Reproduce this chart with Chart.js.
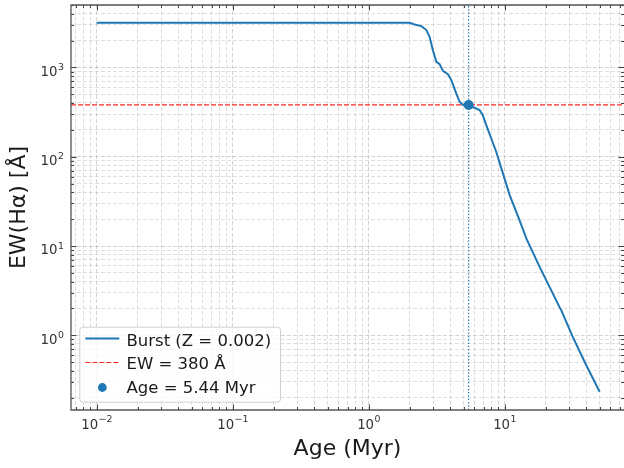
<!DOCTYPE html>
<html>
<head>
<meta charset="utf-8">
<script src="https://cdn.jsdelivr.net/npm/chart.js@4.4.1/dist/chart.umd.min.js"></script>
<style>
  html, body { margin: 0; padding: 0; background: #fff; }
  #wrap { width: 624px; height: 468px; }
</style>
</head>
<body>
<div id="wrap"><canvas id="c" width="624" height="468"></canvas></div>
<script>
// Burst model, Z = 0.002: H-alpha equivalent width versus age
const ageMyr = [0.01, 0.1, 1.0, 1.9, 2.0, 2.18, 2.44, 2.66, 2.81, 2.97, 3.15, 3.33, 3.52, 3.83,
  4.06, 4.41, 4.67, 4.94, 5.46, 6.01, 6.55, 6.92, 7.33, 7.98, 8.69, 9.72, 10.9, 12.6,
  14.5, 18.1, 21.4, 25.3, 26.1, 31.7, 39.8, 50.0];
const ewHalpha = [3160, 3160, 3160, 3160, 3155, 3030, 2900, 2620, 2200, 1560, 1155, 1090, 916, 841,
  721, 512, 412, 379, 372, 353, 333, 292, 226, 160, 113, 65, 37.2, 21.2,
  12.0, 5.85, 3.49, 2.08, 1.91, 0.96, 0.465, 0.233];

// Observed EW and the age where the model reaches it
const ewObserved = 380;
const ageMatch = 5.44;

// Labelled decades on each axis
const xTickExponents = [-2, -1, 0, 1];
const yTickExponents = [0, 1, 2, 3];

// Axis limits (log-space padding around the data)
const xLimits = [Math.pow(10, -2.188), Math.pow(10, 1.878)];
const yLimits = [Math.pow(10, -0.8365), Math.pow(10, 3.699)];

const BLUE = '#1f77b4';
const FONT = '"DejaVu Sans", "Liberation Sans", sans-serif';

function logTicks(min, max) {
  const out = [];
  for (let e = Math.floor(Math.log10(min)) - 1; e <= Math.ceil(Math.log10(max)); e++) {
    for (let m = 1; m <= 9; m++) {
      const v = m * Math.pow(10, e);
      if (v >= min * 0.9999 && v <= max * 1.0001) out.push({ value: v, major: m === 1 });
    }
  }
  return out;
}

function superLabel(exp) {
  return { base: '10', sup: exp < 0 ? '\u2212' + Math.abs(exp) : String(exp) };
}

// Inward ticks on all sides, spines, decade labels, axis titles and legend
const decor = {
  id: 'decor',
  afterDatasetsDraw(chart) {
    const { ctx, chartArea: a, scales: { x, y } } = chart;
    ctx.save();
    ctx.strokeStyle = '#444';
    ctx.lineWidth = 1;
    x.ticks.forEach(t => {
      const px = Math.round(x.getPixelForValue(t.value)) + 0.5;
      const len = t.major ? 5.5 : 3;
      ctx.beginPath();
      ctx.moveTo(px, a.bottom); ctx.lineTo(px, a.bottom - len);
      ctx.moveTo(px, a.top); ctx.lineTo(px, a.top + len);
      ctx.stroke();
    });
    y.ticks.forEach(t => {
      const py = Math.round(y.getPixelForValue(t.value)) + 0.5;
      const len = t.major ? 5.5 : 3;
      ctx.beginPath();
      ctx.moveTo(a.left, py); ctx.lineTo(a.left + len, py);
      ctx.moveTo(a.right, py); ctx.lineTo(a.right - len, py);
      ctx.stroke();
    });
    // left, top and bottom spines (the right one sits on the canvas edge)
    ctx.strokeStyle = '#555';
    ctx.lineWidth = 1.3;
    ctx.beginPath();
    ctx.moveTo(a.right + 1, a.top); ctx.lineTo(a.left, a.top);
    ctx.lineTo(a.left, a.bottom); ctx.lineTo(a.right + 1, a.bottom);
    ctx.stroke();
    ctx.restore();
  },
  afterDraw(chart) {
    const { ctx, chartArea: a, scales: { x, y } } = chart;
    ctx.save();
    ctx.fillStyle = '#333';
    ctx.textBaseline = 'alphabetic';
    const baseFont = '13.3px ' + FONT;
    const supFont = '9.4px ' + FONT;

    xTickExponents.forEach(e => {
      const px = x.getPixelForValue(Math.pow(10, e));
      const lab = superLabel(e);
      ctx.font = baseFont; const wb = ctx.measureText(lab.base).width;
      ctx.font = supFont; const ws = ctx.measureText(lab.sup).width;
      const x0 = px - (wb + ws) / 2;
      ctx.textAlign = 'left';
      ctx.font = baseFont; ctx.fillText(lab.base, x0, a.bottom + 19);
      ctx.font = supFont; ctx.fillText(lab.sup, x0 + wb + 0.5, a.bottom + 12);
    });

    yTickExponents.forEach(e => {
      const py = y.getPixelForValue(Math.pow(10, e));
      const lab = superLabel(e);
      ctx.font = supFont; const ws = ctx.measureText(lab.sup).width;
      ctx.textAlign = 'right';
      const right = a.left - 7;
      ctx.fillText(lab.sup, right, py + 2.5);
      ctx.font = baseFont; ctx.fillText(lab.base, right - ws - 0.5, py + 8.3);
    });

    // Axis titles
    ctx.fillStyle = '#1a1a1a';
    ctx.font = '22px ' + FONT;
    ctx.textAlign = 'center';
    ctx.textBaseline = 'middle';
    ctx.fillText('Age (Myr)', (a.left + a.right) / 2, 449);
    ctx.save();
    ctx.translate(19, (a.top + a.bottom) / 2);
    ctx.rotate(-Math.PI / 2);
    ctx.fillText('EW(H\u03b1) [\u00c5]', 0, 0);
    ctx.restore();

    // Legend
    const bx = a.left + 8.3, bw = 200.7, bh = 75;
    const by = a.bottom - 8.3 - bh;
    ctx.beginPath();
    ctx.roundRect(bx + 0.5, by + 0.5, bw, bh, 3);
    ctx.fillStyle = 'rgba(255,255,255,0.8)';
    ctx.fill();
    ctx.strokeStyle = '#d0d0d0';
    ctx.lineWidth = 1;
    ctx.stroke();

    const rows = [by + 19.3, by + 42.6, by + 66];
    const hx0 = bx + 6, hx1 = bx + 40, tx = bx + 47.2;
    ctx.lineWidth = 2; ctx.strokeStyle = BLUE;
    ctx.beginPath(); ctx.moveTo(hx0, rows[0] - 7.5); ctx.lineTo(hx1, rows[0] - 7.5); ctx.stroke();
    ctx.lineWidth = 1.2; ctx.strokeStyle = 'rgba(255,0,0,0.85)';
    ctx.setLineDash([5, 2]);
    ctx.beginPath(); ctx.moveTo(hx0, rows[1] - 6.8); ctx.lineTo(hx1, rows[1] - 6.8); ctx.stroke();
    ctx.setLineDash([]);
    ctx.fillStyle = BLUE;
    ctx.beginPath(); ctx.arc((hx0 + hx1) / 2, rows[2] - 5.2, 4.4, 0, Math.PI * 2); ctx.fill();

    ctx.fillStyle = '#1a1a1a';
    ctx.font = '16.5px ' + FONT;
    ctx.textAlign = 'left';
    ctx.textBaseline = 'alphabetic';
    ctx.fillText('Burst (Z = 0.002)', tx, rows[0]);
    ctx.fillText('EW = ' + ewObserved + ' \u00c5', tx, rows[1]);
    ctx.fillText('Age = ' + ageMatch.toFixed(2) + ' Myr', tx, rows[2]);
    ctx.restore();
  }
};

const gridColor = c => (c.tick && c.tick.major) ? 'rgba(150,150,150,0.42)' : 'rgba(170,170,170,0.38)';

function axis(pos, limits, fitKey, fitVal) {
  return {
    type: 'logarithmic',
    position: pos,
    min: limits[0],
    max: limits[1],
    bounds: 'data',
    afterBuildTicks: s => { s.ticks = logTicks(s.min, s.max); },
    afterFit: s => { s[fitKey] = fitVal; },
    ticks: { display: false },
    grid: { color: gridColor, lineWidth: 1, drawTicks: false, tickLength: 0 },
    border: { display: false, dash: [4, 2] }
  };
}

new Chart(document.getElementById('c'), {
  type: 'scatter',
  data: {
    datasets: [
      {
        label: 'Age = 5.44 Myr',
        data: [{ x: ageMatch, y: ewObserved }],
        backgroundColor: BLUE,
        borderWidth: 0,
        pointRadius: 5,
        order: 0
      },
      {
        label: 'Burst (Z = 0.002)',
        data: ageMyr.map((a, i) => ({ x: a, y: ewHalpha[i] })),
        showLine: true,
        borderColor: BLUE,
        borderWidth: 2,
        pointRadius: 0,
        tension: 0,
        order: 1
      },
      {
        label: 'EW = 380 \u00c5',
        data: [{ x: xLimits[0], y: ewObserved }, { x: xLimits[1], y: ewObserved }],
        showLine: true,
        borderColor: 'rgba(255,0,0,0.85)',
        borderWidth: 1.3,
        borderDash: [5, 2],
        pointRadius: 0,
        order: 2
      },
      {
        label: 'age marker',
        data: [{ x: ageMatch, y: yLimits[0] }, { x: ageMatch, y: yLimits[1] }],
        showLine: true,
        borderColor: BLUE,
        borderWidth: 1.1,
        borderDash: [1.5, 1.8],
        pointRadius: 0,
        order: 3
      }
    ]
  },
  options: {
    responsive: false,
    animation: false,
    devicePixelRatio: 1,
    layout: { autoPadding: false, padding: { top: 5, left: 0, right: 0, bottom: 0 } },
    plugins: { legend: { display: false }, tooltip: { enabled: false }, title: { display: false } },
    scales: {
      x: axis('bottom', xLimits, 'height', 58),
      y: axis('left', yLimits, 'width', 71)
    }
  },
  plugins: [decor]
});
</script>
</body>
</html>
